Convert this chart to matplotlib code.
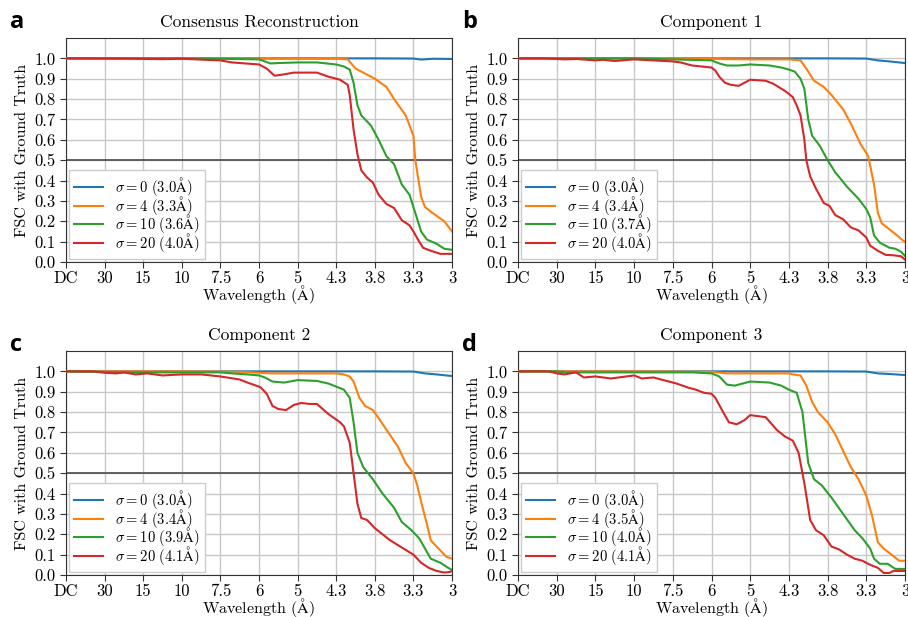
import numpy as np
import matplotlib
matplotlib.use("Agg")
import matplotlib.pyplot as plt

plt.rcParams['font.family'] = ['cmr10', 'DejaVu Serif']
plt.rcParams['mathtext.fontset'] = 'cm'
plt.rcParams['axes.formatter.use_mathtext'] = True

# x positions in units of 1/30 A^-1 (0 = DC, 10 = 3 A)
tick_pos = list(range(11))
tick_labels = ["DC", "30", "15", "10", "7.5", "6", "5", "4.3", "3.8", "3.3", "3"]
titles = ["Consensus Reconstruction", "Component 1", "Component 2", "Component 3"]
panel_letters = ["a", "b", "c", "d"]
sigmas = [0, 4, 10, 20]
resolutions = [
    ["3.0", "3.3", "3.6", "4.0"],
    ["3.0", "3.4", "3.7", "4.0"],
    ["3.0", "3.4", "3.9", "4.1"],
    ["3.0", "3.5", "4.0", "4.1"],
]

# ---- panel a: consensus ----
a_blue_x = [0, 2, 4, 6, 8, 9, 9.2, 9.5, 10]
a_blue_y = [1.0, 1.0, 1.0, 1.0, 1.0, 0.999, 0.994, 0.998, 0.997]
a_orange_x = [0, 3, 5, 7, 7.3, 7.5, 7.7, 8.0, 8.3, 8.5, 8.8, 9.0, 9.05, 9.2, 9.3, 9.5, 9.8, 10]
a_orange_y = [1.0, 1.0, 0.998, 0.998, 0.995, 0.95, 0.93, 0.90, 0.86, 0.80, 0.72, 0.62, 0.5, 0.32, 0.27, 0.24, 0.20, 0.15]
a_green_x = [0, 3, 4, 5, 5.3, 5.5, 6, 6.5, 7, 7.2, 7.35, 7.45, 7.55, 7.65, 7.9, 8.1, 8.3, 8.5, 8.7, 8.9,
             9.05, 9.2, 9.35, 9.6, 9.8, 10]
a_green_y = [1.0, 1.0, 0.998, 0.995, 0.975, 0.977, 0.98, 0.98, 0.97, 0.96, 0.945, 0.88, 0.77, 0.72, 0.67, 0.60,
             0.52, 0.48, 0.38, 0.33, 0.24, 0.15, 0.11, 0.09, 0.065, 0.06]
a_red_x = [0, 1.5, 2.5, 3, 4, 4.3, 5, 5.2, 5.4, 5.6, 5.9, 6.3, 6.5, 6.8, 7.1, 7.3, 7.35, 7.45, 7.55, 7.65,
           7.8, 7.95, 8.1, 8.3, 8.5, 8.7, 8.9, 9.0, 9.15, 9.25, 9.45, 9.7, 10]
a_red_y = [1.0, 0.999, 0.996, 0.998, 0.99, 0.98, 0.97, 0.95, 0.915, 0.92, 0.93, 0.93, 0.93, 0.91, 0.895, 0.87,
           0.82, 0.65, 0.53, 0.45, 0.415, 0.39, 0.33, 0.285, 0.265, 0.205, 0.18, 0.15, 0.10, 0.07, 0.055,
           0.04, 0.04]

# ---- panel b: component 1 ----
b_blue_x = [0, 3, 6, 8, 9, 9.3, 9.6, 10]
b_blue_y = [1.0, 1.0, 1.0, 1.0, 0.999, 0.99, 0.985, 0.977]
b_orange_x = [0, 3, 5, 6, 7, 7.3, 7.45, 7.65, 7.9, 8.1, 8.4, 8.6, 8.85, 9.05, 9.2, 9.3, 9.4, 9.6, 9.8, 9.95, 10]
b_orange_y = [1.0, 1.0, 0.997, 0.995, 0.995, 0.99, 0.95, 0.89, 0.86, 0.82, 0.75, 0.68, 0.58, 0.52, 0.38, 0.24,
              0.19, 0.16, 0.13, 0.105, 0.10]
b_green_x = [0, 3, 4, 5, 5.2, 5.4, 5.7, 6, 6.5, 6.8, 7.0, 7.15, 7.3, 7.4, 7.5, 7.6, 7.8, 8, 8.2, 8.5, 8.8,
             9, 9.1, 9.2, 9.35, 9.6, 9.75, 9.9, 10]
b_green_y = [1.0, 1.0, 0.995, 0.99, 0.975, 0.965, 0.965, 0.97, 0.965, 0.955, 0.945, 0.935, 0.9, 0.85, 0.7,
             0.62, 0.57, 0.5, 0.44, 0.37, 0.31, 0.26, 0.22, 0.13, 0.095, 0.07, 0.065, 0.05, 0.03]
b_red_x = [0, 0.7, 1.2, 1.5, 2, 2.2, 2.5, 3, 3.5, 4, 4.2, 4.5, 5, 5.1, 5.2, 5.35, 5.5, 5.7, 5.9, 6, 6.4,
           6.6, 6.9, 7.1, 7.2, 7.3, 7.4, 7.45, 7.55, 7.7, 7.9, 8.05, 8.2, 8.4, 8.6, 8.8, 9.0, 9.1, 9.3,
           9.5, 9.7, 9.9, 10]
b_red_y = [1.0, 1.0, 0.995, 0.997, 0.99, 0.993, 0.987, 0.995, 0.99, 0.985, 0.98, 0.965, 0.955, 0.94, 0.91,
           0.88, 0.87, 0.865, 0.885, 0.895, 0.89, 0.875, 0.84, 0.81, 0.77, 0.72, 0.6, 0.5, 0.42, 0.36,
           0.29, 0.275, 0.23, 0.21, 0.17, 0.155, 0.12, 0.08, 0.055, 0.035, 0.033, 0.028, 0.012]

# ---- panel c: component 2 ----
c_blue_x = [0, 3, 6, 8, 9, 9.3, 9.6, 10]
c_blue_y = [1.0, 1.0, 1.0, 1.0, 0.999, 0.99, 0.985, 0.977]
c_orange_x = [0, 3, 4.5, 5.3, 5.7, 6, 7, 7.2, 7.35, 7.45, 7.6, 7.75, 7.95, 8.1, 8.35, 8.6, 8.8, 9.0, 9.1,
              9.2, 9.35, 9.45, 9.65, 9.85, 10]
c_orange_y = [1.0, 1.0, 0.998, 0.99, 0.99, 0.99, 0.99, 0.985, 0.975, 0.95, 0.87, 0.83, 0.81, 0.77, 0.70,
              0.63, 0.55, 0.50, 0.44, 0.36, 0.25, 0.17, 0.13, 0.09, 0.08]
c_green_x = [0, 1, 1.5, 4, 4.3, 4.7, 5, 5.15, 5.35, 5.65, 6.0, 6.5, 6.8, 7.0, 7.2, 7.35, 7.45, 7.55, 7.7,
             7.95, 8.2, 8.5, 8.7, 8.95, 9.15, 9.3, 9.45, 9.7, 9.9, 10]
c_green_y = [1.0, 0.997, 0.995, 0.995, 0.99, 0.985, 0.98, 0.97, 0.95, 0.945, 0.957, 0.953, 0.94, 0.925, 0.91,
             0.87, 0.75, 0.60, 0.53, 0.47, 0.40, 0.33, 0.26, 0.22, 0.18, 0.13, 0.08, 0.06, 0.035, 0.025]
c_red_x = [0, 0.7, 1.0, 1.3, 1.5, 1.8, 2.1, 2.5, 3.0, 3.5, 4, 4.5, 4.7, 5.0, 5.05, 5.2, 5.35, 5.5, 5.7,
           5.9, 6.1, 6.3, 6.5, 6.8, 7.1, 7.2, 7.35, 7.45, 7.55, 7.65, 7.8, 8.0, 8.2, 8.4, 8.7, 9.0, 9.2,
           9.4, 9.6, 9.8, 9.95, 10]
c_red_y = [1.0, 1.0, 0.993, 0.99, 0.995, 0.985, 0.99, 0.98, 0.985, 0.985, 0.975, 0.96, 0.945, 0.925, 0.92,
           0.89, 0.83, 0.815, 0.81, 0.835, 0.845, 0.84, 0.84, 0.79, 0.75, 0.73, 0.65, 0.50, 0.35, 0.28,
           0.27, 0.23, 0.20, 0.17, 0.135, 0.10, 0.06, 0.035, 0.02, 0.012, 0.015, 0.02]

# ---- panel d: component 3 ----
d_blue_x = [0, 3, 6, 8, 9, 9.3, 9.6, 10]
d_blue_y = [1.0, 1.0, 1.0, 1.0, 0.999, 0.99, 0.987, 0.982]
d_orange_x = [0, 3, 5, 5.4, 6, 7, 7.1, 7.3, 7.45, 7.6, 7.75, 8.0, 8.2, 8.4, 8.6, 8.8, 9.0, 9.15, 9.3, 9.45,
              9.65, 9.85, 10]
d_orange_y = [1.0, 1.0, 0.998, 0.99, 0.99, 0.99, 0.985, 0.98, 0.93, 0.85, 0.80, 0.75, 0.69, 0.61, 0.53,
              0.47, 0.39, 0.29, 0.16, 0.13, 0.10, 0.07, 0.07]
d_green_x = [0, 1, 1.2, 4.5, 5, 5.2, 5.4, 5.6, 5.9, 6.0, 6.5, 6.8, 7.0, 7.2, 7.35, 7.5, 7.65, 7.85, 8.1,
             8.4, 8.7, 8.9, 9.1, 9.2, 9.35, 9.55, 9.75, 10]
d_green_y = [1.0, 1.0, 0.995, 0.995, 0.99, 0.975, 0.935, 0.93, 0.945, 0.95, 0.945, 0.93, 0.91, 0.895, 0.80,
             0.55, 0.47, 0.44, 0.38, 0.30, 0.22, 0.18, 0.13, 0.08, 0.055, 0.055, 0.03, 0.03]
d_red_x = [0, 0.8, 1.0, 1.2, 1.5, 1.7, 2.0, 2.4, 2.8, 3.0, 3.2, 3.5, 3.8, 4.1, 4.4, 4.6, 4.8, 5.0, 5.1,
           5.3, 5.45, 5.65, 5.85, 6.0, 6.2, 6.4, 6.7, 6.9, 7.1, 7.25, 7.4, 7.55, 7.7, 7.9, 8.1, 8.3, 8.5,
           8.7, 8.9, 9.1, 9.3, 9.45, 9.6, 9.7, 10]
d_red_y = [1.0, 1.0, 0.99, 0.985, 0.995, 0.97, 0.975, 0.965, 0.975, 0.98, 0.965, 0.97, 0.955, 0.94, 0.92,
           0.91, 0.895, 0.89, 0.87, 0.80, 0.75, 0.74, 0.76, 0.785, 0.78, 0.775, 0.71, 0.68, 0.66, 0.60,
           0.45, 0.27, 0.22, 0.195, 0.14, 0.125, 0.10, 0.08, 0.07, 0.05, 0.035, 0.01, 0.01, 0.02, 0.02]

panels = [
    [(a_blue_x, a_blue_y), (a_orange_x, a_orange_y), (a_green_x, a_green_y), (a_red_x, a_red_y)],
    [(b_blue_x, b_blue_y), (b_orange_x, b_orange_y), (b_green_x, b_green_y), (b_red_x, b_red_y)],
    [(c_blue_x, c_blue_y), (c_orange_x, c_orange_y), (c_green_x, c_green_y), (c_red_x, c_red_y)],
    [(d_blue_x, d_blue_y), (d_orange_x, d_orange_y), (d_green_x, d_green_y), (d_red_x, d_red_y)],
]
colors = ["#1f77b4", "#ff7f0e", "#2ca02c", "#d62728"]

fig = plt.figure(figsize=(9.08, 6.17), dpi=100)
W, H = 908, 617
# axes boxes in pixels: left, top, right, bottom
boxes = [(66, 38, 452, 262), (518, 38, 905, 262), (66, 351, 452, 575), (518, 351, 905, 575)]
letter_pos = [(10, 22), (462, 22), (10, 345), (462, 345)]

for i in range(4):
    l, t, r, b = boxes[i]
    ax = fig.add_axes([l / W, 1 - b / H, (r - l) / W, (b - t) / H])
    for k in range(4):
        xs, ys = panels[i][k]
        lab = r"$\sigma=%d\ (%s\mathrm{\AA})$" % (sigmas[k], resolutions[i][k])
        ax.plot(xs, ys, color=colors[k], lw=1.5, label=lab, zorder=3)
    ax.axhline(0.5, color="#555555", lw=1.3, zorder=2)
    ax.set_xlim(0, 10)
    ax.set_ylim(0, 1.1)
    ax.set_xticks(tick_pos)
    ax.set_xticklabels(tick_labels)
    ax.set_yticks(np.arange(0, 1.01, 0.1))
    ax.set_yticklabels(["%.1f" % v for v in np.arange(0, 1.01, 0.1)])
    ax.grid(True, color="#c8c8c8", lw=1.0, zorder=0)
    ax.set_axisbelow(True)
    for s in ax.spines.values():
        s.set_color("#333333")
    ax.tick_params(labelsize=12, length=4, color="#333333")
    ax.tick_params(axis="x", pad=2)
    ax.set_title(titles[i], fontsize=12.5, pad=8)
    ax.set_ylabel("FSC with Ground Truth", fontsize=11.5)
    ax.set_xlabel(r"Wavelength ($\mathrm{\AA}$)", fontsize=11.5, labelpad=-2)
    leg = ax.legend(loc="lower left", fontsize=10.5, fancybox=False, framealpha=1,
                    edgecolor="#cccccc", handlelength=2.0, borderaxespad=0.2,
                    labelspacing=-0.3, handletextpad=0.8, borderpad=0.35)
    fig.text(letter_pos[i][0] / W, 1 - letter_pos[i][1] / H, panel_letters[i],
             family="Open Sans", fontweight="bold", fontsize=17, va="center", ha="left")

fig.savefig("out.png", dpi=100)
